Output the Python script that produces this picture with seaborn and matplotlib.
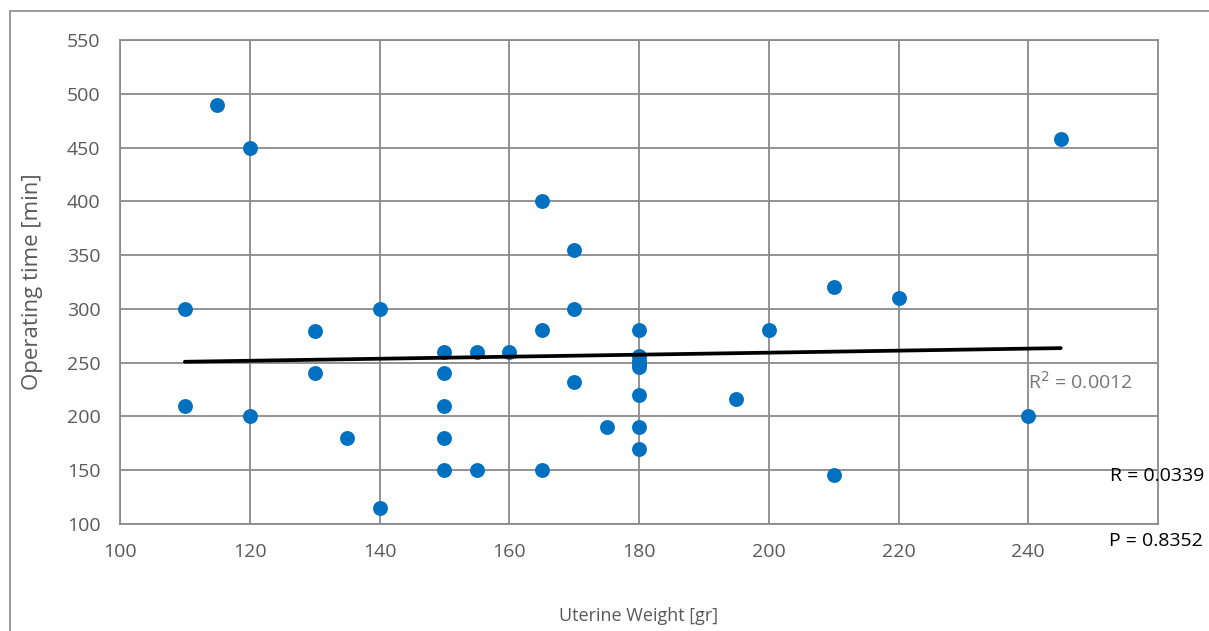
import numpy as np
import pandas as pd
import matplotlib
matplotlib.use('Agg')
import matplotlib.pyplot as plt
import seaborn as sns
from matplotlib.patches import Rectangle

# values
uterine_weight = [115, 120, 165, 110, 140, 130, 165, 150, 155, 160,
                  130, 150, 110, 150, 120, 135, 150, 150, 155, 165,
                  140, 170, 170, 180, 200, 210, 220, 180, 180, 180,
                  180, 170, 180, 195, 175, 180, 180, 210, 245, 240]
operating_time = [490, 450, 400, 300, 300, 279, 280, 260, 260, 260,
                  240, 240, 210, 210, 200, 180, 180, 150, 150, 150,
                  115, 355, 300, 280, 280, 320, 310, 256, 252, 249,
                  246, 232, 220, 216, 190, 190, 170, 146, 458, 200]
# linear trendline as drawn in the reference (slope, intercept)
trend_slope = 0.094
trend_intercept = 240.5
x_ticks = [100, 120, 140, 160, 180, 200, 220, 240]
y_ticks = [100, 150, 200, 250, 300, 350, 400, 450, 500, 550]

df = pd.DataFrame({"weight": uterine_weight, "time": operating_time})

sns.set_style("white")
plt.rcParams['font.family'] = ['Open Sans', 'DejaVu Sans']

fig = plt.figure(figsize=(12.09, 6.31), dpi=100)
ax = fig.add_axes([120 / 1209, 1 - 524 / 631, 1038 / 1209, 484 / 631])

grid_col = "#8a8a8a"
sns.scatterplot(data=df, x="weight", y="time", ax=ax, s=115,
                color="#0070C0", linewidth=0, zorder=3)

# trendline over the data range
tx = np.array([min(uterine_weight), max(uterine_weight)])
ax.plot(tx, trend_intercept + trend_slope * tx, color="black",
        linewidth=2.7, solid_capstyle="round", zorder=4)

ax.set_xlim(100, 260)
ax.set_ylim(100, 550)
ax.set_xticks(x_ticks)
ax.set_yticks(y_ticks)
ax.grid(True, color=grid_col, linewidth=1.3, zorder=0)
ax.set_axisbelow(True)
for s in ax.spines.values():
    s.set_color(grid_col)
    s.set_linewidth(1.3)
ax.tick_params(length=0, labelsize=14, labelcolor="#595959")
ax.tick_params(axis="x", pad=14)
ax.tick_params(axis="y", pad=14)

ax.set_xlabel("Uterine Weight [gr]", fontsize=13, color="#595959")
ax.set_ylabel("Operating time [min]", fontsize=16, color="#595959")
ax.xaxis.set_label_coords(0.5, -0.172)
ax.yaxis.set_label_coords(-0.074, 0.5)

fig.text(1028 / 1209, 1 - 382 / 631, "R$^2$ = 0.0012", fontsize=14,
         color="#767676", va="center", ha="left")
fig.text(1204 / 1209, 1 - 476 / 631, "R = 0.0339", fontsize=14,
         color="black", va="center", ha="right")
fig.text(1203 / 1209, 1 - 541 / 631, "P = 0.8352", fontsize=14,
         color="black", va="center", ha="right")

# outer chart-area border
fig.patches.append(Rectangle((10 / 1209, -0.1), 1.2, 1 - 11 / 631 + 0.1,
                             transform=fig.transFigure, fill=False,
                             edgecolor=grid_col, linewidth=1.2))

fig.savefig("out.png", dpi=100)
